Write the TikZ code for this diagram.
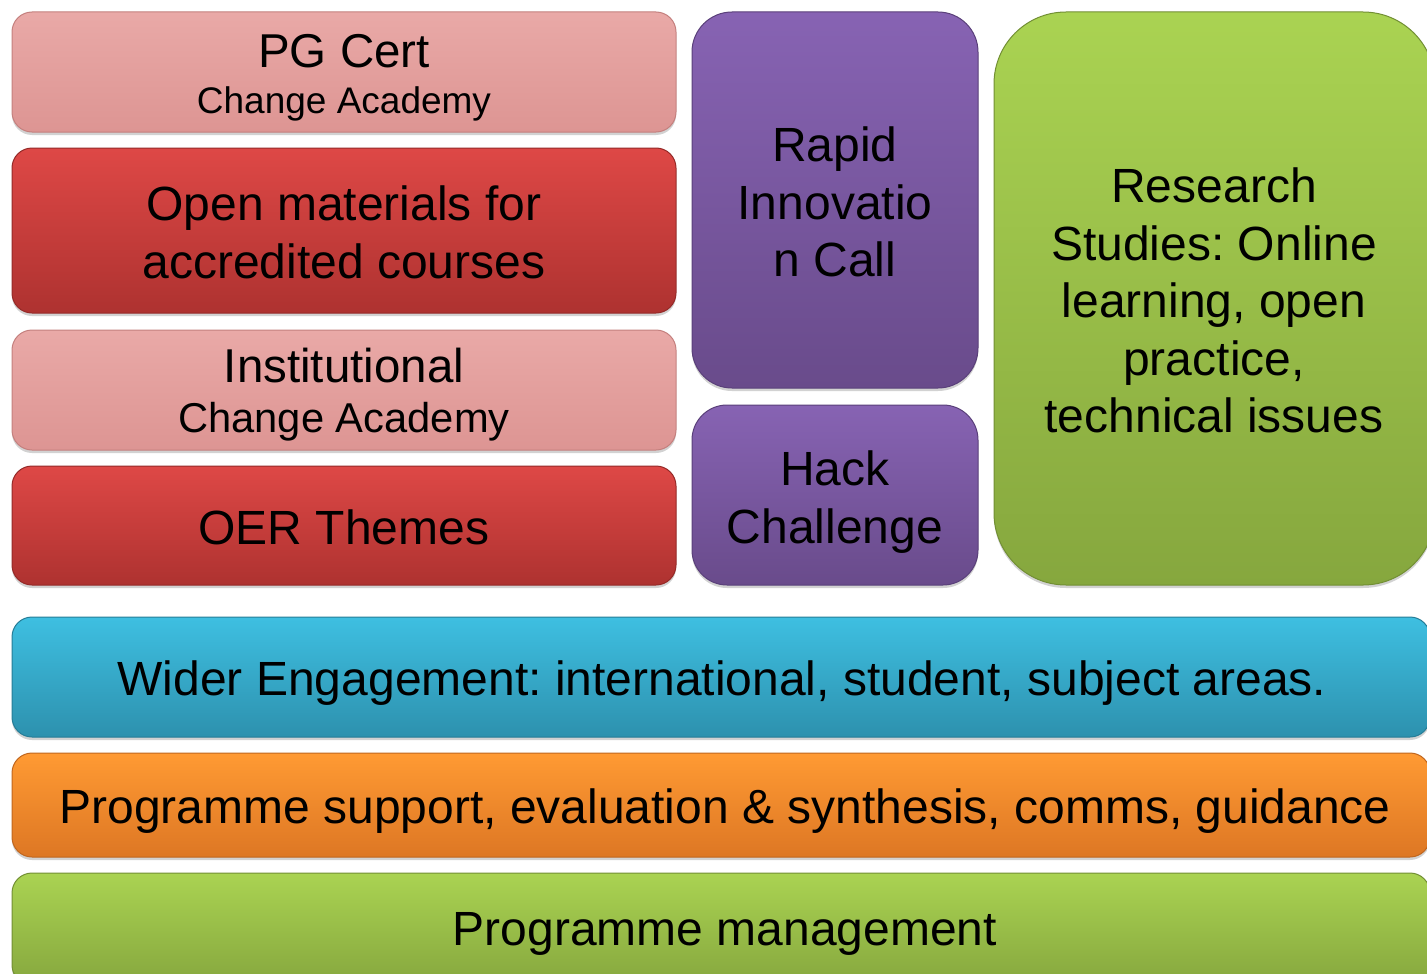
\documentclass[tikz,border=0pt]{standalone}
\usepackage{fontspec}
\setmainfont{Liberation Sans}
\frenchspacing
\usetikzlibrary{shadows}
\definecolor{pinkT}{HTML}{E9A9A7}
\definecolor{pinkB}{HTML}{DD9593}
\definecolor{pinkD}{HTML}{C4807E}
\definecolor{redT}{HTML}{DE4846}
\definecolor{redB}{HTML}{AE3230}
\definecolor{redD}{HTML}{952A28}
\definecolor{purT}{HTML}{8763B3}
\definecolor{purB}{HTML}{694B8B}
\definecolor{purD}{HTML}{5A407A}
\definecolor{grnT}{HTML}{AAD352}
\definecolor{grnB}{HTML}{86A73E}
\definecolor{grnD}{HTML}{728F34}
\definecolor{bluT}{HTML}{3EBFE1}
\definecolor{bluB}{HTML}{2D91AE}
\definecolor{bluD}{HTML}{267D97}
\definecolor{orgT}{HTML}{FF9A33}
\definecolor{orgB}{HTML}{DD7724}
\definecolor{orgD}{HTML}{C0661E}
\tikzset{
  blk/.style={rounded corners=#1, inner sep=0pt, line width=1pt,
    drop shadow={shadow xshift=0pt, shadow yshift=-3pt, opacity=0.35, fill=gray}},
  pinkbox/.style={blk=20, top color=pinkT, bottom color=pinkB, draw=pinkD},
  redbox/.style={blk=20, top color=redT, bottom color=redB, draw=redD},
  purbox/.style={blk=#1, top color=purT, bottom color=purB, draw=purD},
  grnbox/.style={blk=#1, top color=grnT, bottom color=grnB, draw=grnD},
  blubox/.style={blk=20, top color=bluT, bottom color=bluB, draw=bluD},
  orgbox/.style={blk=20, top color=orgT, bottom color=orgB, draw=orgD},
  lbl/.style={inner sep=0pt, align=center, font=\fontsize{48}{57.5}\selectfont},
  baselbl/.style={inner sep=0pt, anchor=base, font=\fontsize{#1}{#1}\selectfont}
}
\begin{document}
\begin{tikzpicture}[x=1pt,y=-1pt]
\useasboundingbox (0,0) rectangle (1427,974);
\clip (0,0) rectangle (1427,974);
\fill[white] (0,0) rectangle (1427,974);
% left column
\node[pinkbox, minimum width=664, minimum height=120] (pg) at (344,72) {};
\node[baselbl=47.5] (pg-t1) at (344,67) {PG Cert};
\node[baselbl=37] (pg-t2) at (344,113) {Change Academy};
\node[redbox, minimum width=664, minimum height=165] (open) at (344,230.5) {};
\node[lbl] (open-t) at (344,232.5) {Open materials for\\accredited courses};
\node[pinkbox, minimum width=664, minimum height=120] (inst) at (344,390) {};
\node[baselbl=47.5] (inst-t1) at (344,382) {Institutional};
\node[baselbl=41.7] (inst-t2) at (344,432) {Change Academy};
\node[redbox, minimum width=664, minimum height=119] (oer) at (344,525.5) {};
\node[lbl] (oer-t) at (344,527.5) {OER Themes};
% middle column
\node[purbox=40, minimum width=286, minimum height=376] (rapid) at (835,200) {};
\node[lbl] (rapid-t) at (835,202) {Rapid\\Innovatio\\n Call};
\node[purbox=35, minimum width=286, minimum height=180] (hack) at (835,495) {};
\node[lbl] (hack-t) at (835,502) {Hack\\Challenge};
% right column
\node[grnbox=72, minimum width=441, minimum height=573] (res) at (1214.5,298.5) {};
\node[lbl] (res-t) at (1214,300.5) {Research\\Studies: Online\\learning, open\\practice,\\technical issues};
% bottom bars
\node[blubox, minimum width=1418, minimum height=120] (wider) at (721,677) {};
\node[lbl] (wider-t) at (722,683) {Wider Engagement: international, student, subject areas.};
\node[orgbox, minimum width=1418, minimum height=104] (supp) at (721,805) {};
\node[lbl] (supp-t) at (725,811) {Programme support, evaluation \& synthesis, comms, guidance};
\node[grnbox=20, minimum width=1418, minimum height=112] (mgmt) at (721,929) {};
\node[lbl] (mgmt-t) at (725,934) {Programme management};
\end{tikzpicture}
\end{document}
